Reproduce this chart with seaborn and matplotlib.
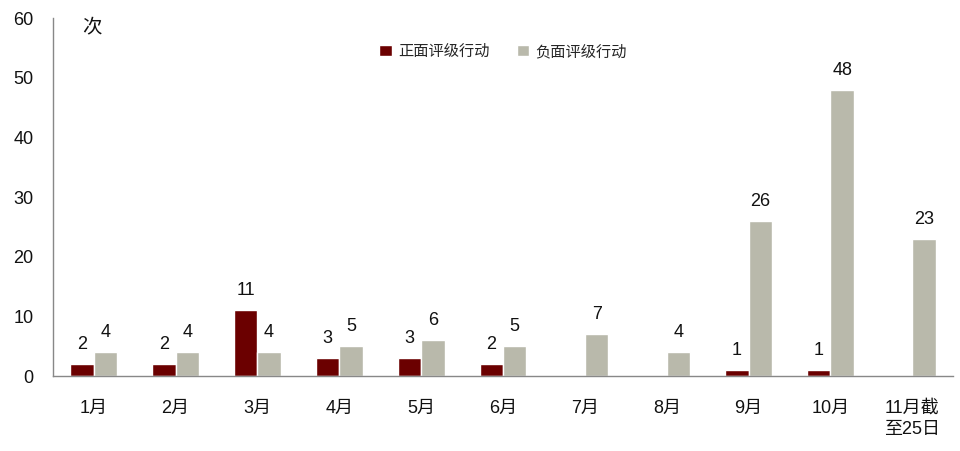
import numpy as np
import pandas as pd
import matplotlib
matplotlib.use("Agg")
import matplotlib.pyplot as plt
import seaborn as sns

months = ["1月", "2月", "3月", "4月", "5月", "6月", "7月", "8月", "9月", "10月", "11月截\n至25日"]
positive = [2, 2, 11, 3, 3, 2, 0, 0, 1, 1, 0]
negative = [4, 4, 4, 5, 6, 5, 7, 4, 26, 48, 23]
series_names = ["正面评级行动", "负面评级行动"]
colors = ["#6B0000", "#B9B9AB"]

sns.set_theme(style="white")
plt.rcParams["font.family"] = ["Liberation Sans", "Noto Sans CJK SC", "DejaVu Sans"]

df = pd.DataFrame({
    "month": months * 2,
    "value": positive + negative,
    "series": [series_names[0]] * len(months) + [series_names[1]] * len(months),
})

fig = plt.figure(figsize=(9.6, 4.51), dpi=100)
ax = fig.add_axes([0.055, 0.166, 0.938, 0.794])

sns.barplot(data=df, x="month", y="value", hue="series", palette=colors,
            width=0.57, ax=ax, saturation=1, legend=True)

for cont in ax.containers:
    labels = [f"{int(v)}" if v > 0 else "" for v in cont.datavalues]
    ax.bar_label(cont, labels=labels, padding=8, fontsize=13, color="#111111")

ax.set_ylim(0, 60)
ax.set_yticks(range(0, 61, 10))
ax.set_xlim(-0.5, len(months) - 0.5)
ax.set_xlabel("")
ax.set_ylabel("")
ax.tick_params(axis="y", length=0, labelsize=13, pad=14, colors="#111111")
ax.tick_params(axis="x", which="major", length=0, labelsize=13, pad=17, colors="#111111")
for lbl in ax.get_xticklabels():
    lbl.set_linespacing(1.3)
ax.set_xticks(np.arange(-0.5, len(months), 1), minor=True)
ax.tick_params(axis="x", which="minor", direction="in", length=5, color="#888888", width=1)

for side in ["top", "right"]:
    ax.spines[side].set_visible(False)
for side in ["left", "bottom"]:
    ax.spines[side].set_color("#888888")
    ax.spines[side].set_linewidth(1)

ax.text(0.033, 0.998, "次", transform=ax.transAxes, fontsize=14, va="top", ha="left",
        color="#111111")

leg = ax.legend(loc="upper center", bbox_to_anchor=(0.5, 0.965), ncol=2, frameon=False,
                fontsize=11, handlelength=0.8, handleheight=0.8, columnspacing=1.8,
                handletextpad=0.4)

fig.savefig("out.png", dpi=100)
